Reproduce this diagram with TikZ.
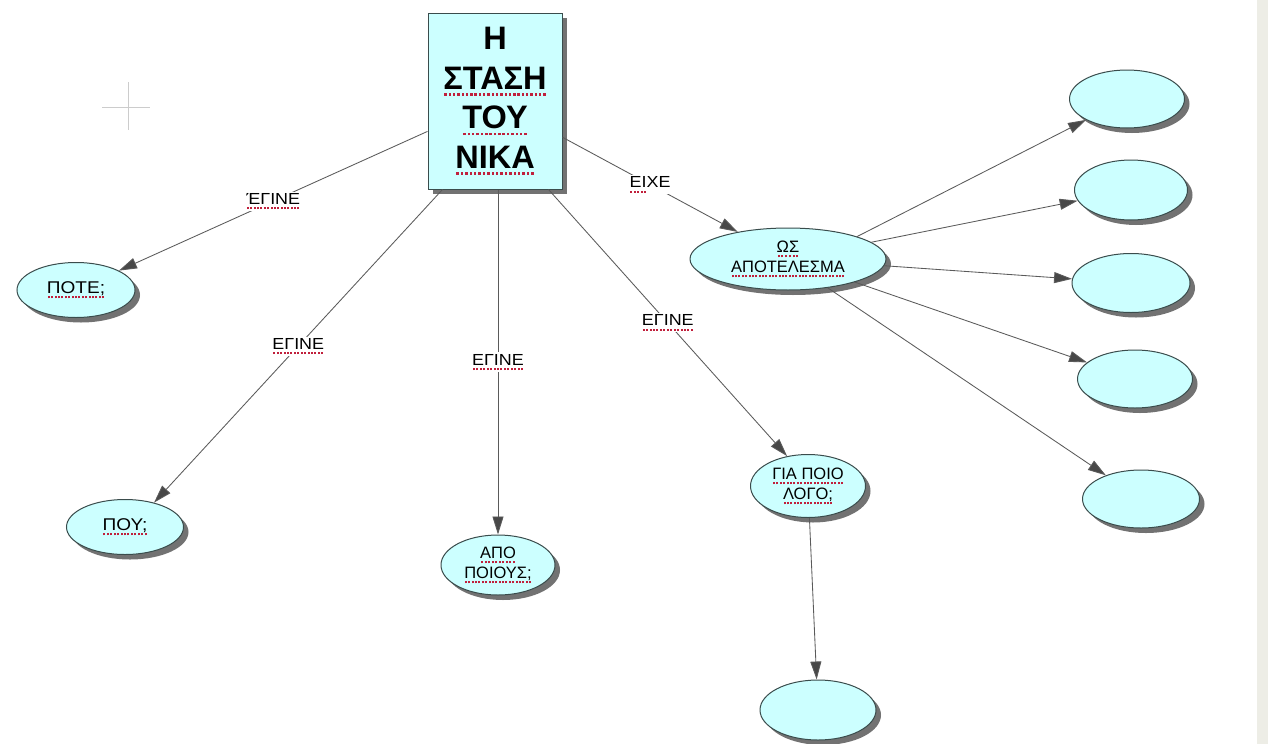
\documentclass[tikz,border=0pt]{standalone}
\usepackage{fontspec}
\setmainfont{Liberation Sans}
\newfontfamily\widefont[FakeStretch=1.12]{Liberation Sans}
\usetikzlibrary{arrows.meta,shapes.geometric,shadows}
\definecolor{cy}{HTML}{CCFFFF}
\definecolor{bd}{HTML}{3A4C4C}
\definecolor{ln}{HTML}{5A5A5A}
\definecolor{sh}{HTML}{727272}
\definecolor{strip}{HTML}{EDEDE6}
\definecolor{spell}{HTML}{C0203C}
\newcommand\sqgen[4]{\setbox0=\hbox{#4}\rlap{\raisebox{#1}{\hbox to \wd0{\color{spell}\xleaders\hbox to #2{\hss\rule{#3}{#3}\hss}\hfill}}}\box0}
\newcommand\sq[1]{\sqgen{-5pt}{3.3pt}{2pt}{#1}}
\newcommand\sqb[1]{\sqgen{-6.5pt}{4.2pt}{2.4pt}{#1}}
\begin{document}
\begin{tikzpicture}[x=1pt,y=-1pt,
  bubble/.style={ellipse, draw=bd, line width=1pt, fill=cy, inner sep=0pt, align=center,
    font=\fontsize{16.5}{20}\selectfont,
    drop shadow={shadow xshift=5pt, shadow yshift=-5pt, fill=sh, opacity=1}},
  boxst/.style={rectangle, draw=bd, line width=1pt, fill=cy, minimum width=134pt, minimum height=176pt,
    align=center, inner sep=0pt, font=\bfseries\fontsize{32.5}{39.5}\selectfont,
    drop shadow={shadow xshift=5pt, shadow yshift=-5pt, fill=sh, opacity=1}},
  edge/.style={draw=ln, line width=0.85pt, -{Triangle[length=18pt,width=11pt,fill=ln!80!black]}},
  lbl/.style={fill=white, inner sep=1.5pt, font=\widefont\fontsize{16}{18}\selectfont}
]
\useasboundingbox (0,0) rectangle (1277,744);
\fill[white] (0,0) rectangle (1277,744);
\fill[strip] (1257,0) rectangle (1268,744);
% crosshair
\draw[gray!40, line width=0.8pt] (102,107) -- (150,107) (128,82) -- (128,130);

\node[boxst] (box) at (495,101) {Η\\\sqb{ΣΤΑΣΗ}\\\sqb{ΤΟΥ}\\\sqb{ΝΙΚΑ}};

\node[bubble, minimum width=118pt, minimum height=55pt, font=\widefont\fontsize{17}{20}\selectfont] (pote) at (76,290) {\sq{ΠΟΤΕ;}};
\node[bubble, minimum width=117pt, minimum height=55pt, font=\widefont\fontsize{17}{20}\selectfont] (pou) at (125,527) {\sq{ΠΟΥ;}};
\node[bubble, minimum width=114pt, minimum height=60pt] (apo) at (498,565) {\sq{ΑΠΟ}\\\sq{ΠΟΙΟΥΣ;}};
\node[bubble, minimum width=115pt, minimum height=63pt] (gia) at (808,486) {\sq{ΓΙΑ ΠΟΙΟ}\\\sq{ΛΟΓΟ;}};
\node[bubble, minimum width=116pt, minimum height=60pt] (bot) at (818,710) {};
\node[bubble, minimum width=196pt, minimum height=62pt] (ws) at (788,259) {\sq{ΩΣ}\\\sq{ΑΠΟΤΕΛΕΣΜΑ}};
\node[bubble, minimum width=115pt, minimum height=58pt] (r1) at (1127,99) {};
\node[bubble, minimum width=113pt, minimum height=60pt] (r2) at (1131,190) {};
\node[bubble, minimum width=118pt, minimum height=59pt] (r3) at (1131,283) {};
\node[bubble, minimum width=115pt, minimum height=58pt] (r4) at (1135,379) {};
\node[bubble, minimum width=117pt, minimum height=58pt] (r5) at (1141,499) {};

\draw[edge] (box) -- node[lbl]{\sq{ΈΓΙΝΕ}} (pote);
\draw[edge] ([xshift=15pt]box.south west) -- node[lbl]{\sq{ΕΓΙΝΕ}} (pou.40);
\draw[edge] (box.south -| apo.north) -- node[lbl]{\sq{ΕΓΙΝΕ}} (apo.north);
\draw[edge] ([xshift=-14pt]box.south east) -- node[lbl]{\sq{ΕΓΙΝΕ}} (gia.125);
\draw[edge] (box) -- node[lbl]{\sq{ΕΙ}ΧΕ} (ws);
\draw[edge] (gia) -- (bot);
\draw[edge] (ws.18) -- (r1);
\draw[edge] (ws) -- (r2);
\draw[edge] (ws) -- (r3);
\draw[edge] (ws) -- (r4);
\draw[edge] (ws.-36) -- (r5);
\end{tikzpicture}
\end{document}
